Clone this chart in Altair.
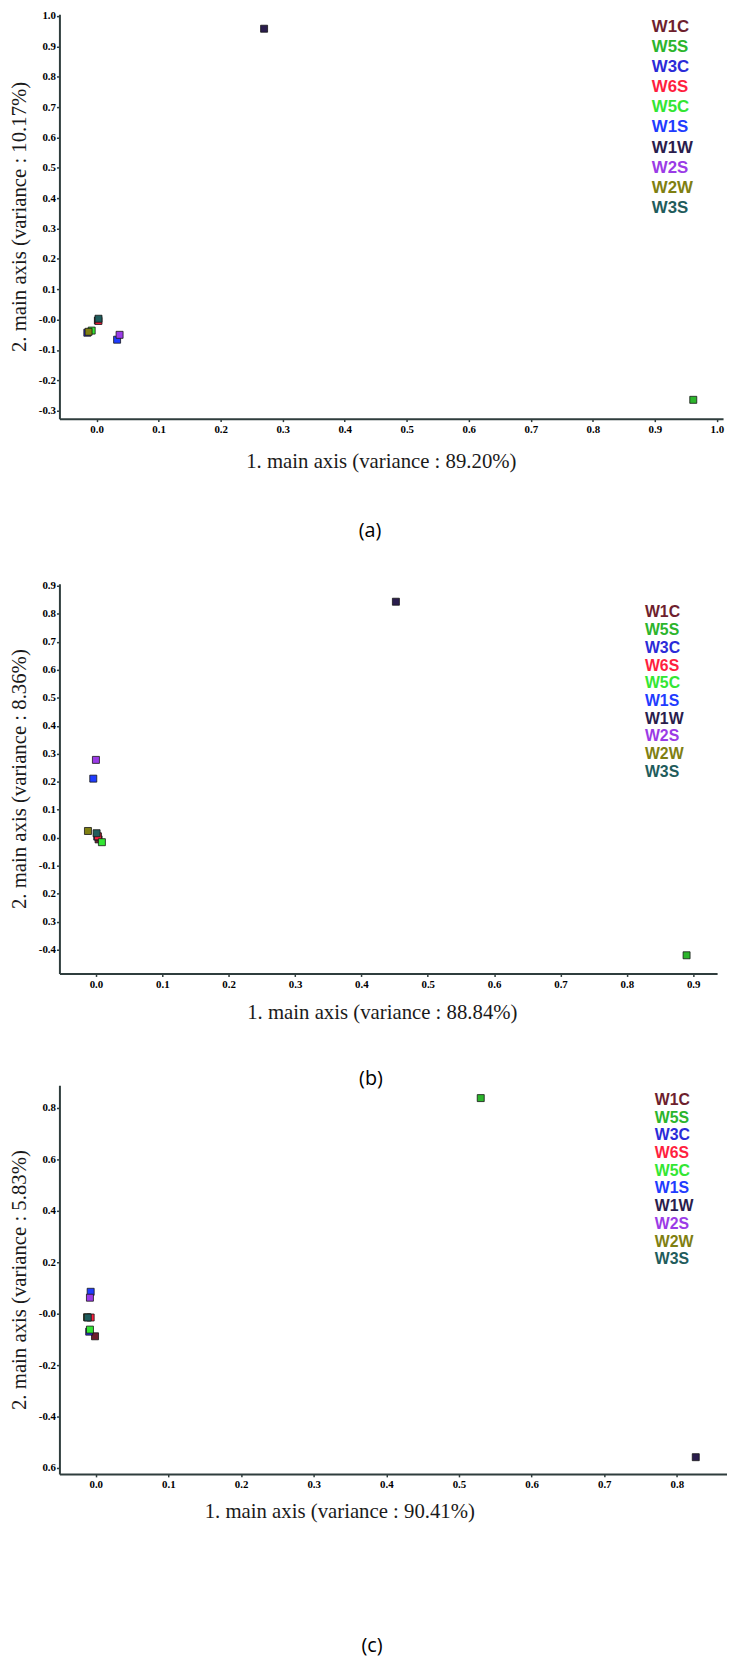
import json
import altair as alt
import pandas as pd

series = ["W1C", "W5S", "W3C", "W6S", "W5C", "W1S", "W1W", "W2S", "W2W", "W3S"]
colors = ["#6e1f2e", "#2cb52c", "#2b2bd8", "#ff1f3f", "#33e633",
          "#1f3cff", "#2a1d4d", "#9b3be6", "#7f7f12", "#1f5c5c"]

# panel (a)
a_x = [0.002, 0.962, -0.015, 0.003, -0.008, 0.033, 0.270, 0.037, -0.013, 0.003]
a_y = [-0.003, -0.264, -0.043, -0.004, -0.036, -0.066, 0.958, -0.050, -0.040, 0.003]
a_xticks = [0.0, 0.1, 0.2, 0.3, 0.4, 0.5, 0.6, 0.7, 0.8, 0.9, 1.0]
a_xlabels = ["0.0", "0.1", "0.2", "0.3", "0.4", "0.5", "0.6", "0.7", "0.8", "0.9", "1.0"]
a_yticks = [-0.3, -0.2, -0.1, 0.0, 0.1, 0.2, 0.3, 0.4, 0.5, 0.6, 0.7, 0.8, 0.9, 1.0]
a_ylabels = ["-0.3", "-0.2", "-0.1", "-0.0", "0.1", "0.2", "0.3", "0.4", "0.5",
             "0.6", "0.7", "0.8", "0.9", "1.0"]
a_xtitle = "1. main axis (variance : 89.20%)"
a_ytitle = "2. main axis (variance : 10.17%)"

# panel (b)
b_x = [0.004, 0.890, 0.002, 0.003, 0.009, -0.004, 0.452, 0.000, -0.012, 0.001]
b_y = [-0.006, -0.420, 0.004, 0.005, -0.016, 0.211, 0.843, 0.278, 0.024, 0.016]
b_xticks = [0.0, 0.1, 0.2, 0.3, 0.4, 0.5, 0.6, 0.7, 0.8, 0.9]
b_xlabels = ["0.0", "0.1", "0.2", "0.3", "0.4", "0.5", "0.6", "0.7", "0.8", "0.9"]
b_yticks = [-0.4, -0.3, -0.2, -0.1, 0.0, 0.1, 0.2, 0.3, 0.4, 0.5, 0.6, 0.7, 0.8, 0.9]
b_ylabels = ["-0.4", "0.3", "0.2", "-0.1", "0.0", "0.1", "0.2", "0.3", "0.4",
             "0.5", "0.6", "0.7", "0.8", "0.9"]
b_xtitle = "1. main axis (variance : 88.84%)"
b_ytitle = "2. main axis (variance : 8.36%)"

# panel (c)
c_x = [-0.001, 0.530, -0.009, -0.007, -0.008, -0.007, 0.826, -0.008, -0.012, -0.011]
c_y = [-0.088, 0.838, -0.070, -0.015, -0.062, 0.085, -0.558, 0.062, -0.014, -0.015]
c_xticks = [0.0, 0.1, 0.2, 0.3, 0.4, 0.5, 0.6, 0.7, 0.8]
c_xlabels = ["0.0", "0.1", "0.2", "0.3", "0.4", "0.5", "0.6", "0.7", "0.8"]
c_yticks = [-0.6, -0.4, -0.2, 0.0, 0.2, 0.4, 0.6, 0.8]
c_ylabels = ["0.6", "-0.4", "-0.2", "-0.0", "0.2", "0.4", "0.6", "0.8"]
c_xtitle = "1. main axis (variance : 90.41%)"
c_ytitle = "2. main axis (variance : 5.83%)"

panel_tags = ["(a)", "(b)", "(c)"]

AXIS_COLOR = "#2f3d3d"
color_scale = alt.Scale(domain=series, range=colors)


def lab_expr(ticks, labels):
    keys = [int(round(t * 10)) for t in ticks]
    return f"{json.dumps(labels)}[indexof({json.dumps(keys)}, round(datum.value*10))]"


def panel(xs, ys, xdom, ydom, w, h, xt, xl, yt, yl, xtitle, ytitle,
          xtitle_x, xtitle_y, leg_x, leg_y0, leg_y1, leg_fs, tags):
    df = pd.DataFrame({"series": series, "x": xs, "y": ys})
    pts = alt.Chart(df).mark_square(size=50, filled=True, opacity=1,
                                    stroke="#151515", strokeWidth=0.8).encode(
        x=alt.X("x:Q", scale=alt.Scale(domain=xdom, nice=False, zero=False),
                axis=alt.Axis(values=xt, labelExpr=lab_expr(xt, xl), title=xtitle,
                              titleX=xtitle_x, titleY=xtitle_y,
                              titleBaseline="alphabetic", titleAnchor="middle",
                              titleAlign="center", labelPadding=2)),
        y=alt.Y("y:Q", scale=alt.Scale(domain=ydom, nice=False, zero=False),
                axis=alt.Axis(values=yt, labelExpr=lab_expr(yt, yl), title=ytitle,
                              titleX=-40, titleY=h / 2, titleAngle=270,
                              titleBaseline="middle", titleAlign="center",
                              labelPadding=1)),
        color=alt.Color("series:N", scale=color_scale, legend=None),
    )
    leg_df = pd.DataFrame({"series": series})
    leg = alt.Chart(leg_df).mark_text(align="left", baseline="middle",
                                      font="Liberation Sans", fontSize=leg_fs,
                                      fontWeight="bold").encode(
        x=alt.value(leg_x),
        y=alt.Y("series:N", sort=series, axis=None,
                scale=alt.Scale(type="point", domain=series,
                                range=[leg_y0, leg_y1], padding=0)),
        text="series:N",
        color=alt.Color("series:N", scale=color_scale, legend=None),
    )
    layers = [pts, leg]
    for (txt, tx, ty) in tags:
        tdf = pd.DataFrame({"tag": [txt]})
        layers.append(alt.Chart(tdf).mark_text(font="Open Sans", fontSize=20,
                                               color="black", align="center",
                                               baseline="middle").encode(
            x=alt.value(tx), y=alt.value(ty), text="tag:N"))
    return alt.layer(*layers).resolve_scale(y="independent").properties(width=w, height=h)


def spacer(h):
    sdf = pd.DataFrame({"v": [0]})
    return alt.Chart(sdf).mark_point(opacity=0).encode(
        x=alt.X("v:Q", axis=None), y=alt.Y("v:Q", axis=None)
    ).properties(width=1, height=h)


pa = panel(a_x, a_y, [-0.06, 1.01], [-0.326, 1.006], 671, 409,
           a_xticks, a_xlabels, a_yticks, a_ylabels, a_xtitle, a_ytitle,
           325, 49, 599, 13, 196, 17, [(panel_tags[0], 314, 523)])
pb = panel(b_x, b_y, [-0.055, 0.936], [-0.485, 0.907], 665, 394,
           b_xticks, b_xlabels, b_yticks, b_ylabels, b_xtitle, b_ytitle,
           326, 46, 592, 29, 190, 16, [(panel_tags[1], 315, 501)])
pc = panel(c_x, c_y, [-0.05, 0.869], [-0.623, 0.888], 675, 393,
           c_xticks, c_xlabels, c_yticks, c_ylabels, c_xtitle, c_ytitle,
           283, 44, 602, 15, 176, 16, [(panel_tags[2], 316, 567)])

chart = alt.vconcat(pa, spacer(167), pb, spacer(113), pc, spacing=0,
                    bounds="flush").properties(
    padding={"left": 0, "top": -8, "right": 0, "bottom": 0}
).configure_view(stroke=None).configure_axis(
    grid=False,
    domainColor=AXIS_COLOR, domainWidth=2,
    tickColor=AXIS_COLOR, tickWidth=1.5, tickSize=3,
    labelFont="Liberation Serif", labelFontWeight="bold", labelFontSize=11,
    labelColor="black",
    titleFont="Liberation Serif", titleFontWeight="normal", titleFontSize=21,
    titleColor="#1a1a1a",
)

chart.save("out.html", embed_options={"renderer": "svg", "actions": False})
